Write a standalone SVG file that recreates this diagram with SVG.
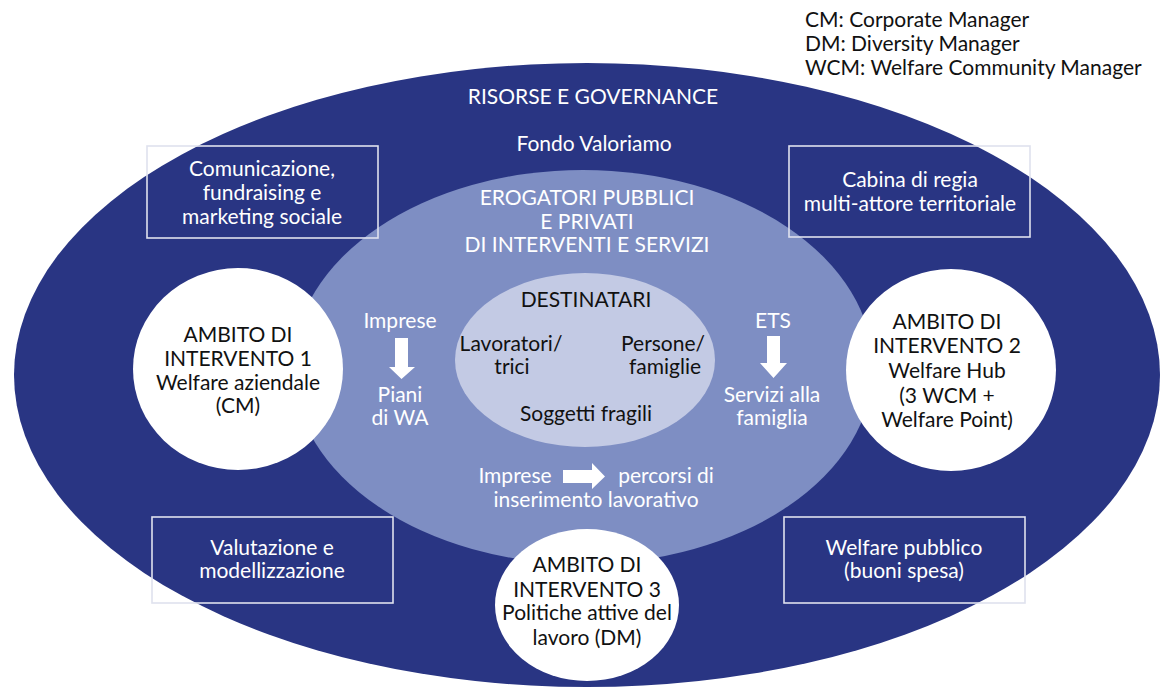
<svg xmlns="http://www.w3.org/2000/svg" width="1161" height="691" viewBox="0 0 1161 691">
  <style>
    text { font-family: Lato, "Noto Sans", "Liberation Sans", sans-serif; font-size: 21px; text-anchor: middle; }
    .w { fill: #ffffff; }
    .k { fill: #111111; }
    .box { fill: none; stroke: #dfe2ee; stroke-width: 1.6; }
    .arrow { fill: #ffffff; }
  </style>
  <rect x="0" y="0" width="1161" height="691" fill="#ffffff"/>

  <!-- legend -->
  <g id="legend">
    <text class="k" x="805" y="27" style="text-anchor:start">CM: Corporate Manager</text>
    <text class="k" x="805" y="51" style="text-anchor:start">DM: Diversity Manager</text>
    <text class="k" x="805" y="75" style="text-anchor:start">WCM: Welfare Community Manager</text>
  </g>

  <!-- outer ring: resources and governance -->
  <g id="risorse">
    <ellipse cx="587" cy="375" rx="573" ry="312" fill="#293583"/>
    <text class="w" x="593" y="104">RISORSE E GOVERNANCE</text>
    <text class="w" x="594" y="151">Fondo Valoriamo</text>
  </g>

  <!-- middle ring: providers -->
  <g id="erogatori">
    <ellipse cx="583" cy="367" rx="290" ry="197" fill="#7e8ec3"/>
    <text class="w" x="587" y="205">EROGATORI PUBBLICI</text>
    <text class="w" x="587" y="229">E PRIVATI</text>
    <text class="w" x="587" y="252">DI INTERVENTI E SERVIZI</text>
  </g>

  <!-- inner core: recipients -->
  <g id="destinatari">
    <ellipse cx="585" cy="360" rx="130" ry="87" fill="#c3cae4"/>
    <text class="k" x="586" y="307">DESTINATARI</text>
    <text class="k" x="511" y="351">Lavoratori/</text>
    <text class="k" x="512" y="374">trici</text>
    <text class="k" x="663" y="351">Persone/</text>
    <text class="k" x="665" y="374">famiglie</text>
    <text class="k" x="586" y="421">Soggetti fragili</text>
  </g>

  <!-- boxes in the outer ring -->
  <g id="box-comunicazione">
    <rect class="box" x="147" y="146" width="231" height="92"/>
    <text class="w" x="262" y="176">Comunicazione,</text>
    <text class="w" x="262" y="200">fundraising e</text>
    <text class="w" x="262" y="224">marketing sociale</text>
  </g>
  <g id="box-cabina">
    <rect class="box" x="789" y="146" width="241" height="91"/>
    <text class="w" x="910" y="187">Cabina di regia</text>
    <text class="w" x="910" y="211">multi-attore territoriale</text>
  </g>
  <g id="box-valutazione">
    <rect class="box" x="152" y="517" width="241" height="86"/>
    <text class="w" x="272" y="555">Valutazione e</text>
    <text class="w" x="272" y="578">modellizzazione</text>
  </g>
  <g id="box-welfare-pubblico">
    <rect class="box" x="784" y="517" width="241" height="86"/>
    <text class="w" x="904" y="555">Welfare pubblico</text>
    <text class="w" x="904" y="578">(buoni spesa)</text>
  </g>

  <!-- flows inside the providers ring -->
  <g id="connectors">
    <path class="arrow" d="M395,338 H408 V367 H415 L401.5,379 L389,367 H395 Z"/>
    <path class="arrow" d="M767,336 H780 V363 H787 L773.5,378 L760,363 H767 Z"/>
    <path class="arrow" d="M563,470 H592 V463 L605,476.5 L592,489 V483 H563 Z"/>
  </g>
  <g id="flow-labels">
    <text class="w" x="400" y="328">Imprese</text>
    <text class="w" x="400" y="402">Piani</text>
    <text class="w" x="400" y="425">di WA</text>
    <text class="w" x="773" y="328">ETS</text>
    <text class="w" x="772" y="402">Servizi alla</text>
    <text class="w" x="772" y="425">famiglia</text>
    <text class="w" x="515" y="483">Imprese</text>
    <text class="w" x="666" y="483">percorsi di</text>
    <text class="w" x="596" y="507">inserimento lavorativo</text>
  </g>

  <!-- intervention areas -->
  <g id="ambito-1">
    <ellipse cx="238" cy="369" rx="105" ry="101" fill="#ffffff"/>
    <text class="k" x="238" y="342">AMBITO DI</text>
    <text class="k" x="238" y="366">INTERVENTO 1</text>
    <text class="k" x="238" y="390">Welfare aziendale</text>
    <text class="k" x="238" y="413">(CM)</text>
  </g>
  <g id="ambito-2">
    <ellipse cx="951" cy="370" rx="105" ry="101" fill="#ffffff"/>
    <text class="k" x="947" y="329">AMBITO DI</text>
    <text class="k" x="947" y="353">INTERVENTO 2</text>
    <text class="k" x="947" y="378">Welfare Hub</text>
    <text class="k" x="947" y="403">(3 WCM +</text>
    <text class="k" x="947" y="427">Welfare Point)</text>
  </g>
  <g id="ambito-3">
    <ellipse cx="587" cy="605" rx="92" ry="76" fill="#ffffff"/>
    <text class="k" x="587" y="572">AMBITO DI</text>
    <text class="k" x="587" y="597">INTERVENTO 3</text>
    <text class="k" x="587" y="620">Politiche attive del</text>
    <text class="k" x="587" y="645">lavoro (DM)</text>
  </g>
</svg>
